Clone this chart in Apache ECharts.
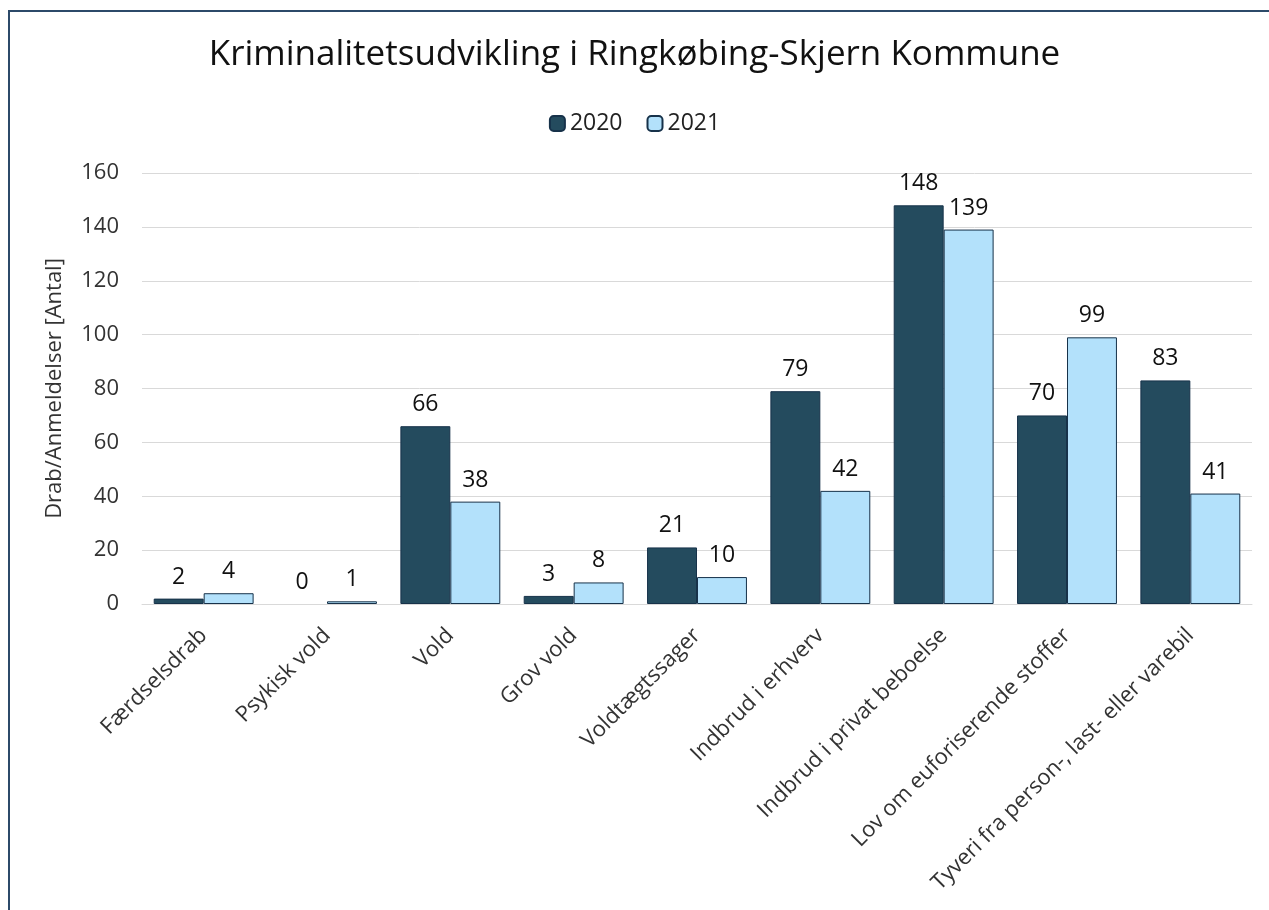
<!DOCTYPE html>
<html>
<head>
<meta charset="UTF-8">
<title>Kriminalitetsudvikling</title>
<script type="text/javascript" src="https://cdn.jsdelivr.net/npm/echarts@6/dist/echarts.min.js"></script>
<style>
html,body{margin:0;padding:0;background:#fff;}
</style>
</head>
<body>
<div id="main" style="width:1269px;height:910px;"></div>

<script type="text/javascript">
// kategorier og værdier
var categories = ['Færdselsdrab','Psykisk vold','Vold','Grov vold','Voldtægtssager',
  'Indbrud i erhverv','Indbrud i privat beboelse','Lov om euforiserende stoffer',
  'Tyveri fra person-, last- eller varebil'];
var values2020 = [2, 0, 66, 3, 21, 79, 148, 70, 83];
var values2021 = [4, 1, 38, 8, 10, 42, 139, 99, 41];
var seriesNames = ['2020', '2021'];

var mychart = echarts.init(document.getElementById('main'));

var font = '"Open Sans", "Noto Sans", sans-serif';

// nul-søjler tegnes uden kant
function toData(arr) {
  return arr.map(function (v) {
    return v === 0 ? { value: v, itemStyle: { borderWidth: 0 } } : v;
  });
}

var barLabel = { show: true, position: 'top', distance: 10, fontFamily: font, fontSize: 23, color: '#111' };

var option = {
  animation: false,
  textStyle: { fontFamily: font },
  // ramme
  graphic: [{
    type: 'rect',
    shape: { x: 9, y: 11, width: 1400, height: 1000 },
    style: { fill: 'none', stroke: '#2c4a69', lineWidth: 2 },
    silent: true
  }],
  title: {
    text: 'Kriminalitetsudvikling i Ringkøbing-Skjern Kommune',
    left: 'center',
    top: 33,
    textStyle: { fontFamily: font, fontSize: 35, fontWeight: 'normal', color: '#111' }
  },
  legend: {
    data: seriesNames,
    top: 107,
    left: 'center',
    itemWidth: 15,
    itemHeight: 15,
    itemGap: 24,
    textStyle: { fontFamily: font, fontSize: 23, color: '#222' }
  },
  grid: {
    left: 142, right: 17, top: 173, bottom: 306
  },
  xAxis: {
    type: 'category',
    data: categories,
    axisLine: { lineStyle: { color: '#d9d9d9', width: 1 } },
    axisTick: { show: false },
    axisLabel: {
      rotate: 45,
      interval: 0,
      margin: 28,
      fontFamily: font,
      fontSize: 22,
      color: '#333'
    }
  },
  yAxis: {
    type: 'value',
    min: 0,
    max: 160,
    interval: 20,
    name: 'Drab/Anmeldelser [Antal]',
    nameLocation: 'middle',
    nameGap: 76,
    nameRotate: 90,
    nameTextStyle: { fontFamily: font, fontSize: 22, color: '#333' },
    axisLine: { show: false },
    axisTick: { show: false },
    axisLabel: { fontFamily: font, fontSize: 22, color: '#333', margin: 23 },
    splitLine: { lineStyle: { color: '#d9d9d9', width: 1 } }
  },
  series: [{
    name: seriesNames[0],
    type: 'bar',
    data: toData(values2020),
    barGap: '0%',
    barCategoryGap: '19%',
    itemStyle: { color: '#244b5e', borderColor: '#17324a', borderWidth: 1 },
    label: barLabel
  }, {
    name: seriesNames[1],
    type: 'bar',
    data: toData(values2021),
    itemStyle: { color: '#b3e1fb', borderColor: '#17324a', borderWidth: 1 },
    label: barLabel
  }]
};

mychart.setOption(option);
</script>
</body>
</html>
